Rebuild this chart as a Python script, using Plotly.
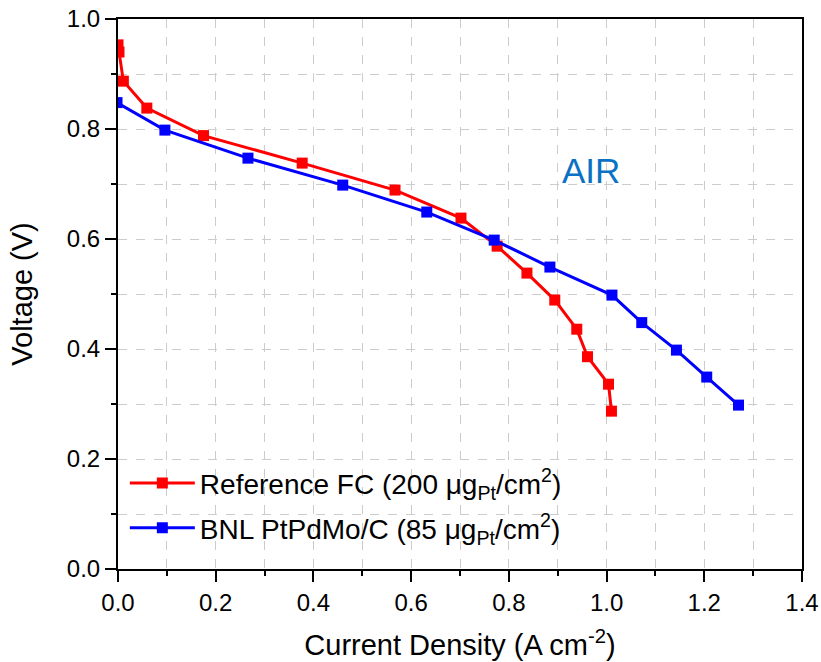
import plotly.graph_objects as go

ref_x = [0.000, 0.002, 0.011, 0.059, 0.175, 0.377, 0.567, 0.702, 0.776, 0.837, 0.894, 0.939, 0.961, 1.004, 1.010]
ref_y = [0.953, 0.940, 0.887, 0.838, 0.788, 0.738, 0.689, 0.638, 0.587, 0.538, 0.489, 0.436, 0.386, 0.336, 0.287]
bnl_x = [-0.002, 0.096, 0.266, 0.460, 0.632, 0.770, 0.884, 1.011, 1.072, 1.143, 1.205, 1.270]
bnl_y = [0.848, 0.798, 0.747, 0.698, 0.649, 0.598, 0.549, 0.498, 0.448, 0.398, 0.349, 0.298]

ref_name = "Reference FC (200 μg<sub>Pt</sub>/cm<sup>2</sup>)"
bnl_name = "BNL PtPdMo/C (85 μg<sub>Pt</sub>/cm<sup>2</sup>)"

fig = go.Figure()
fig.add_trace(go.Scatter(x=ref_x, y=ref_y, mode="lines+markers", name=ref_name,
                         line=dict(color="#ff0000", width=3), legend="legend", showlegend=True,
                         marker=dict(symbol="square", size=11, color="#ff0000")))
fig.add_trace(go.Scatter(x=bnl_x, y=bnl_y, mode="lines+markers", name=bnl_name,
                         line=dict(color="#0000ff", width=3), legend="legend2", showlegend=True,
                         marker=dict(symbol="square", size=11, color="#0000ff")))

fig.add_annotation(x=0.968, y=0.725, text="AIR", showarrow=False,
                   font=dict(size=35, color="#0a72c4", family="Liberation Sans, Arial"))

axis_common = dict(showline=True, linecolor="black", linewidth=2, mirror=True,
                   ticks="outside", ticklen=11, tickwidth=2, tickcolor="black",
                   showgrid=True, gridcolor="#cccccc", griddash="dash", gridwidth=1,
                   zeroline=False, tickfont=dict(size=24, color="black"), automargin=False,
                   minor=dict(ticks="outside", ticklen=5, tickwidth=2, tickcolor="black",
                              showgrid=True, gridcolor="#cccccc", griddash="dash", gridwidth=1))

fig.update_xaxes(range=[0, 1.4], dtick=0.2, tickformat=".1f", minor_dtick=0.1,
                 title=dict(text="Current Density (A cm<sup>-2</sup>)", font=dict(size=29, color="black"), standoff=20),
                 **axis_common)
fig.update_yaxes(range=[0, 1.0], dtick=0.2, tickformat=".1f", minor_dtick=0.1,
                 title=dict(text="Voltage (V)", font=dict(size=29, color="black"), standoff=26),
                 **axis_common)

leg_common = dict(x=0.01, xanchor="left", yanchor="middle",
                  bgcolor="rgba(0,0,0,0)", font=dict(size=28, color="black"),
                  itemwidth=65, visible=True)

fig.update_layout(
    width=821, height=662,
    margin=dict(l=118, r=19, t=19, b=93),
    plot_bgcolor="white", paper_bgcolor="white",
    font=dict(family="Liberation Sans, Arial", color="black"),
    showlegend=True,
    legend=dict(y=0.156, **leg_common),
    legend2=dict(y=0.0745, **leg_common),
)

fig.write_html("out.html")
